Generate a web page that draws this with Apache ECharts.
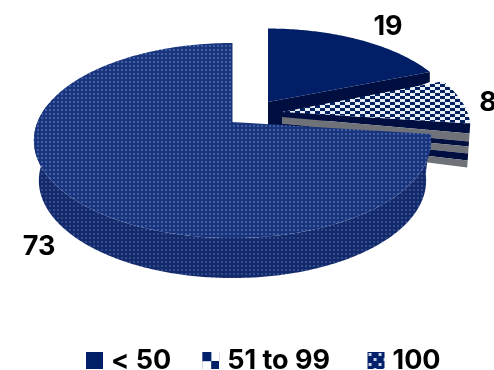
<!DOCTYPE html>
<html><head><meta charset="utf-8">
<style>html,body{margin:0;padding:0;background:#fff}#c{width:494px;height:370px}</style>
<script src="https://cdn.jsdelivr.net/npm/echarts@6/dist/echarts.min.js"></script>
</head><body><div id="c"></div>
<script>
const categories = ['< 50', '51 to 99', '100'];
const values = [19, 8, 73];

function tile(w, h, draw) {
  const c = document.createElement('canvas'); c.width = w; c.height = h;
  draw(c.getContext('2d')); return { image: c, repeat: 'repeat' };
}
function dots(bg, fg, p) {
  return tile(p, p, g => { g.fillStyle = bg; g.fillRect(0,0,p,p); g.fillStyle = fg; g.fillRect(1,1,2,2); });
}
const dotTop = dots('#1a347b', '#3f60a8', 4);
const dotSide = dots('#14296a', '#2f4d8f', 4);
const check = tile(10, 6, g => {
  g.fillStyle = '#e9eff8'; g.fillRect(0,0,10,6);
  g.fillStyle = '#03205f'; g.fillRect(0,0,5,3); g.fillRect(5,3,5,3);
});
const legendCheck = tile(17, 17, g => {
  g.fillStyle = '#fff'; g.fillRect(0,0,17,17);
  g.fillStyle = '#02216a'; g.fillRect(0,0,9,9); g.fillRect(9,9,8,8);
  g.fillStyle = '#c5cfe6'; g.fillRect(9,0,1,9); g.fillRect(0,9,9,1);
});
const legendDots = tile(10, 10, g => {
  g.fillStyle = '#02216a'; g.fillRect(0,0,10,10);
  g.fillStyle = '#c9d4ea'; g.fillRect(1,1,3,3); g.fillRect(6,6,3,3);
});
const NAVY = '#011e67', DARK = '#010f40', GREY = '#70727a';
const FONT = 'Inter';

const total = values.reduce((a, b) => a + b, 0);
const K = 0.19, RX = 195, RY = 94, DEPTH = 40, BOTTOM_SHRINK = 0.975, SIDE_END = 281;
const layouts = [
  { ax: 268, ay: 102, sx: 0.955, sy: 0.93 },
  { ax: 282, ay: 112, sx: 0.95, sy: 0.95 },
  { ax: 232.5, ay: 122, sx: 1, sy: 1 }
];
const labelPos = [[388, 27], [488, 103], [39, 247]];
const bandsInner = [0, 5, 12, 17, 22, 27, 32];
const bandsOuter = [0, 10, 18, 23, 30, 37, 44];

function project(l, deg, depth) {
  const a = deg * Math.PI / 180, u = Math.sin(a), v = -Math.cos(a), w = 1 - K * v;
  const shrink = depth ? BOTTOM_SHRINK : 1;
  return [l.ax + l.sx * RX * u / w * shrink, l.ay + l.sy * RY * v / w + depth];
}
function arc(l, from, to, depth) {
  const out = [], n = Math.max(2, Math.round(Math.abs(to - from) * 1.5));
  for (let i = 0; i <= n; i++) out.push(project(l, from + (to - from) * i / n, depth));
  return out;
}
function poly(points, fill) {
  return { type: 'polygon', shape: { points }, style: { fill }, silent: true };
}

function startAngle(i) {
  let s = 0; for (let k = 0; k < i; k++) s += values[k];
  return s / total * 360;
}

function renderSlice(i, api) {
  const value = api.value(0), l = layouts[i];
  const from = startAngle(i), to = from + value / total * 360;
  const kids = [];
  const apex = [l.ax, l.ay];
  if (i === 0) {
    const tip = project(l, to, 0);
    kids.push(poly([apex, tip, [tip[0], tip[1] + 10], [apex[0], apex[1] + 40]], DARK));
    kids.push(poly([apex].concat(arc(l, from, to, 0)), NAVY));
  } else if (i === 1) {
    const tip = project(l, to, 0);
    for (let b = 0; b < bandsOuter.length - 1; b++) {
      const d0 = bandsOuter[b], d1 = bandsOuter[b + 1];
      kids.push(poly([
        [apex[0], apex[1] + bandsInner[b]], [tip[0] - d0 * 0.07, tip[1] + d0],
        [tip[0] - d1 * 0.07, tip[1] + d1], [apex[0], apex[1] + bandsInner[b + 1]]
      ], b % 2 ? GREY : DARK));
    }
    kids.push(poly([apex].concat(arc(l, from, to, 0)), check));
  } else {
    const top = arc(l, from, SIDE_END, 0), bottom = arc(l, from, SIDE_END, DEPTH).reverse();
    kids.push(poly(top.concat(bottom), dotSide));
    kids.push(poly([apex].concat(arc(l, from, to, 0)), dotTop));
  }
  kids.push({
    type: 'text', x: labelPos[i][0], y: labelPos[i][1], silent: true,
    style: { text: String(value), fill: '#000', font: 'bold 27px ' + FONT, align: 'center', verticalAlign: 'middle' }
  });
  return { type: 'group', children: kids };
}

const chart = echarts.init(document.getElementById('c'), null, { renderer: 'canvas' });
chart.setOption({
  animation: false,
  backgroundColor: '#fff',
  legend: {
    left: 81, top: 342, itemWidth: 17, itemHeight: 17, itemGap: 31, selectedMode: false,
    formatter: name => name === categories[1] ? name + ' ' : name,
    textStyle: { fontFamily: FONT, fontWeight: 'bold', fontSize: 27, color: '#000', padding: [0, 0, 0, 3] },
    data: [
      { name: categories[0], icon: 'rect', itemStyle: { color: NAVY } },
      { name: categories[1], icon: 'rect', itemStyle: { color: legendCheck } },
      { name: categories[2], icon: 'rect', itemStyle: { color: legendDots } }
    ]
  },
  series: categories.map((name, i) => ({
    type: 'custom', name, coordinateSystem: 'none', silent: true,
    itemStyle: { color: NAVY }, z: i,
    data: [[values[i]]],
    renderItem: (params, api) => renderSlice(i, api)
  }))
});
</script></body></html>
